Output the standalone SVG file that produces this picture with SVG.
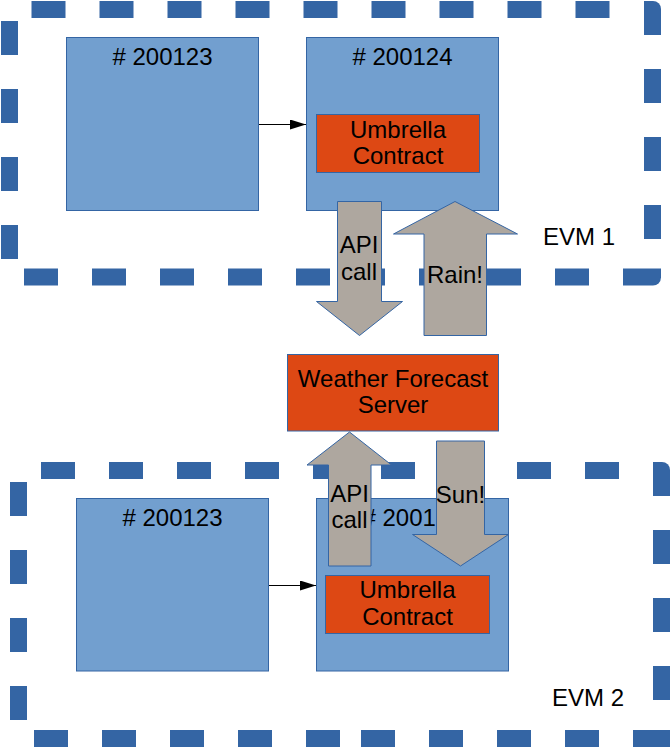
<svg xmlns="http://www.w3.org/2000/svg" width="670" height="747" viewBox="0 0 670 747">
<style>
.d{fill:#3465a4}
.blk{fill:#729fcf;stroke:#3465a4;stroke-width:1}
.org{fill:#dd4814;stroke:#3465a4;stroke-width:1}
.arr{fill:#aea79f;stroke:#3465a4;stroke-width:1}
text{font-family:"Liberation Sans",Arial,sans-serif;font-size:24px;fill:#000;text-anchor:middle}
.con{stroke:#000;stroke-width:1.2;fill:none}
</style>
<defs>
<marker id="ah" markerUnits="userSpaceOnUse" markerWidth="16" markerHeight="10" refX="16" refY="5" orient="auto">
<path d="M0,0 L16,5 L0,10 z" fill="#000"/>
</marker>
</defs>
<rect width="670" height="747" fill="#fff"/>
<g id="evm1">
<g class="d">
<rect x="31.5" y="1" width="34" height="17"/><rect x="99.5" y="1" width="34" height="17"/><rect x="167.5" y="1" width="34" height="17"/><rect x="235.5" y="1" width="34" height="17"/><rect x="303.5" y="1" width="34" height="17"/><rect x="371.5" y="1" width="34" height="17"/><rect x="439.5" y="1" width="34" height="17"/><rect x="507.5" y="1" width="34" height="17"/><rect x="575.5" y="1" width="34" height="17"/>
<path d="M644,1 H653 A8,8 0 0 1 661,9 V35 H644 Z"/>
<rect x="644" y="69" width="17" height="34"/><rect x="644" y="137" width="17" height="34"/><rect x="644" y="205" width="17" height="34"/>
<path d="M623,268.5 H661 V277.5 A8,8 0 0 1 653,285.5 H623 Z"/>
<rect x="24" y="268.5" width="34" height="17"/><rect x="92" y="268.5" width="34" height="17"/><rect x="160" y="268.5" width="34" height="17"/><rect x="228" y="268.5" width="34" height="17"/><rect x="296" y="268.5" width="34" height="17"/><rect x="351" y="268.5" width="34" height="17"/><rect x="419" y="268.5" width="34" height="17"/><rect x="487" y="268.5" width="34" height="17"/><rect x="555" y="268.5" width="34" height="17"/>
<rect x="1" y="21" width="17" height="34"/><rect x="1" y="89" width="17" height="34"/><rect x="1" y="157" width="17" height="34"/><rect x="1" y="225" width="17" height="34"/>
</g>
<text x="579" y="245">EVM 1</text>
</g>
<g id="evm2">
<g class="d">
<rect x="41" y="462" width="34" height="17"/><rect x="109" y="462" width="34" height="17"/><rect x="177" y="462" width="34" height="17"/><rect x="245" y="462" width="34" height="17"/><rect x="313" y="462" width="34" height="17"/><rect x="381" y="462" width="34" height="17"/><rect x="449" y="462" width="34" height="17"/><rect x="517" y="462" width="34" height="17"/><rect x="585" y="462" width="34" height="17"/>
<path d="M653,462 H662 A8,8 0 0 1 670,470 V496 H653 Z"/>
<rect x="653" y="530" width="17" height="34"/><rect x="653" y="598" width="17" height="34"/><rect x="653" y="666" width="17" height="34"/>
<rect x="633" y="730" width="37" height="17"/>
<rect x="34" y="730" width="34" height="17"/><rect x="102" y="730" width="34" height="17"/><rect x="170" y="730" width="34" height="17"/><rect x="238" y="730" width="34" height="17"/><rect x="306" y="730" width="34" height="17"/><rect x="361" y="730" width="34" height="17"/><rect x="429" y="730" width="34" height="17"/><rect x="497" y="730" width="34" height="17"/><rect x="565" y="730" width="34" height="17"/>
<rect x="10" y="482" width="17" height="34"/><rect x="10" y="550" width="17" height="34"/><rect x="10" y="618" width="17" height="34"/><rect x="10" y="686" width="17" height="34"/>
</g>
<text x="588" y="705.5">EVM 2</text>
</g>
<g id="block1a">
<rect class="blk" x="66.5" y="37.5" width="192" height="173"/>
<text x="162.5" y="65"># 200123</text>
</g>
<g id="block1b">
<rect class="blk" x="306.5" y="37.5" width="192" height="173"/>
<text x="402.5" y="65"># 200124</text>
</g>
<g id="umbrella1">
<rect class="org" x="316.5" y="114.5" width="163" height="58"/>
<text x="398" y="137.5">Umbrella</text>
<text x="398" y="164.3">Contract</text>
</g>
<g id="block2a">
<rect class="blk" x="76.5" y="498.5" width="192" height="172.5"/>
<text x="172.5" y="526"># 200123</text>
</g>
<g id="block2b">
<rect class="blk" x="316.5" y="498.5" width="192" height="172.5"/>
<text x="412.5" y="526"># 200124</text>
</g>
<g id="umbrella2">
<rect class="org" x="325.5" y="575.5" width="164" height="58"/>
<text x="407.5" y="598.3">Umbrella</text>
<text x="407.5" y="625">Contract</text>
</g>
<g id="server">
<rect class="org" x="287.5" y="354.5" width="211" height="76.5"/>
<text x="393" y="386.7">Weather Forecast</text>
<text x="393" y="413.4">Server</text>
</g>
<g id="connectors">
<line class="con" x1="259" y1="124.5" x2="306" y2="124.5" marker-end="url(#ah)"/>
<line class="con" x1="269" y1="585.5" x2="316" y2="585.5" marker-end="url(#ah)"/>
</g>
<g id="apiCall1">
<polygon class="arr" points="337.5,201.5 381.5,201.5 381.5,301.5 402.5,301.5 359.5,335.5 316.5,301.5 337.5,301.5"/>
<text x="359" y="253">API</text>
<text x="359" y="280">call</text>
</g>
<g id="rain">
<polygon class="arr" points="455,201.5 517.5,234 486.5,234 486.5,335.5 424,335.5 424,234 393.5,234"/>
<text x="455" y="283.3">Rain!</text>
</g>
<g id="apiCall2">
<polygon class="arr" points="349.5,432 391.5,465 371,465 371,566 328.5,566 328.5,465 307,465"/>
<text x="349.5" y="501.7">API</text>
<text x="349.5" y="528.3">call</text>
</g>
<g id="sun">
<polygon class="arr" points="436.5,441 484.5,441 484.5,534.5 508.5,534.5 460.5,566 412.5,534.5 436.5,534.5"/>
<text x="460.5" y="503.3">Sun!</text>
</g>
</svg>
